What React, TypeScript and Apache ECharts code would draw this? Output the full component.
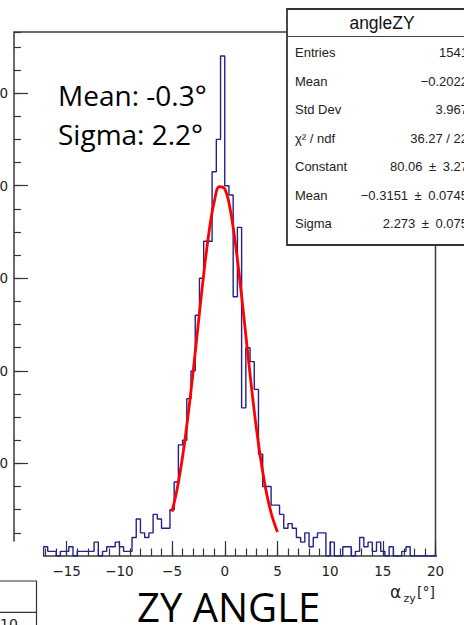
import React, { useEffect, useRef } from 'react';
import * as echarts from 'echarts';

// ---- data ----
const binStart = -17.2; // first visible bin low edge (bins are 0.4 wide)
const binWidth = 0.4;
const histCounts = [
  2, 1, 1, 0, 1, 1, 2, 0, 1, 1, 1, 1, 3, 0, 1, 2, 2, 3, 2, 1, // -17.2 .. -9.6
  1, 4, 8, 5, 4, 5, 9, 8, 6, 6, 10, 16, 24, 25, 34, 40, 52, 60, 68, 68, // -9.2 .. -1.6
  83, 90, 108, 80, 78, 56, 71, 32, 45, 42, 36, 22, 15, 15, 11, 11, 9, 6, 7, 6, // -1.2 .. 6.4
  4, 3, 5, 2, 4, 5, 5, 0, 3, 0, 0, 2, 2, 0, 1, 4, 2, 3, 1, 3, // 6.8 .. 14.4
  1, 0, 2, 0, 0, 1, 2, 0, 0, 0, 0, 0, 0, 0, // 14.8 .. 20
];
const fitX = [-5, -4.5, -4, -3.5, -3, -2.5, -2, -1.5, -1, -0.5, 0, 0.5, 1, 1.5, 2, 2.5, 3, 3.5, 4, 4.5, 5];
const fitY = [9.6, 14.7, 21.5, 30.0, 39.8, 50.4, 60.8, 69.9, 76.5, 79.8, 79.3, 75.1, 67.7, 58.2, 47.7, 37.2, 27.6, 19.6, 13.2, 8.5, 5.2];

const statsTitle = 'angleZY';
const statsLabels = ['Entries', 'Mean', 'Std Dev', 'χ² / ndf', 'Constant', 'Mean', 'Sigma'];
const statsValues = ['1541', '\u22120.2022', '3.967', '36.27 / 22', '80.06\u2002\u00b1\u20023.27', '\u22120.3151\u2002\u00b1\u20020.0745', '2.273\u2002\u00b1\u20020.075'];
const annotations = ['Mean: -0.3°', 'Sigma: 2.2°'];
const caption = 'ZY ANGLE';
const sideBoxText = '10';

const X_MIN = -20;
const X_MAX = 20;
const Y_MAX = 113.2;

function buildOutline(): number[][] {
  const pts: number[][] = [[binStart, 0]];
  histCounts.forEach((c, i) => {
    const x0 = +(binStart + i * binWidth).toFixed(4);
    const x1 = +(binStart + (i + 1) * binWidth).toFixed(4);
    pts.push([x0, c], [x1, c]);
  });
  const end = +(binStart + histCounts.length * binWidth).toFixed(4);
  pts.push([end, 0]);
  return pts;
}

const minus = (v: number) => (v < 0 ? '\u2212' + Math.abs(v) : String(v));

export default function App() {
  const ref = useRef<HTMLDivElement>(null);
  useEffect(() => {
    if (!ref.current) return;
    const chart = echarts.init(ref.current, undefined, { renderer: 'svg' });
    const axisColor = '#333';
    const tickFont = 'DejaVu Sans';
    const statFont = 'Liberation Sans';
    const graphic: any[] = [];

    // white-out of the bottom-left corner (collage edge)
    graphic.push({ type: 'rect', z: 100, shape: { x: -2, y: 541.5, width: 45, height: 90 }, style: { fill: '#fff' } });
    // partial box at bottom-left
    graphic.push({ type: 'rect', z: 101, shape: { x: -10, y: 581, width: 46.5, height: 60 }, style: { fill: 'none', stroke: '#333', lineWidth: 1.2 } });
    graphic.push({ type: 'line', z: 101, shape: { x1: -2, y1: 612.3, x2: 36.5, y2: 612.3 }, style: { stroke: '#333', lineWidth: 1.2 } });
    graphic.push({ type: 'text', z: 101, x: 0, y: 617, style: { text: sideBoxText, fontSize: 14, fontFamily: tickFont, fill: '#222', align: 'left', verticalAlign: 'top' } });

    // stats box
    graphic.push({ type: 'rect', z: 100, shape: { x: 287, y: 9, width: 190, height: 236 }, style: { fill: '#fff', stroke: '#333', lineWidth: 1.8 } });
    graphic.push({ type: 'line', z: 101, shape: { x1: 287, y1: 36.5, x2: 477, y2: 36.5 }, style: { stroke: '#444', lineWidth: 1 } });
    graphic.push({ type: 'text', z: 101, x: 382, y: 23, style: { text: statsTitle, fontSize: 17.5, fontFamily: statFont, fill: '#111', align: 'center', verticalAlign: 'middle' } });
    statsLabels.forEach((lab, i) => {
      const y = 52.5 + i * 28.5;
      graphic.push({ type: 'text', z: 101, x: 295, y, style: { text: lab, fontSize: 13, fontFamily: statFont, fill: '#222', align: 'left', verticalAlign: 'middle' } });
      graphic.push({ type: 'text', z: 101, x: 468, y, style: { text: statsValues[i], fontSize: 13, fontFamily: statFont, fill: '#222', align: 'right', verticalAlign: 'middle' } });
    });

    // annotations
    annotations.forEach((t, i) => {
      graphic.push({ type: 'text', z: 101, x: 58, y: 94.5 + i * 39, style: { text: t, fontSize: 28, fontFamily: 'Open Sans', fill: '#000', align: 'left', verticalAlign: 'middle' } });
    });
    graphic.push({ type: 'text', z: 101, x: 137, y: 606.5, style: { text: caption, fontSize: 40, fontFamily: 'Open Sans', fill: '#000', align: 'left', verticalAlign: 'middle' } });

    // x axis title: alpha_zy [deg]
    graphic.push({ type: 'text', z: 101, x: 390, y: 592, style: { text: 'α', fontSize: 17, fontFamily: tickFont, fill: '#222', align: 'left', verticalAlign: 'middle' } });
    graphic.push({ type: 'text', z: 101, x: 403.5, y: 598, style: { text: 'zy', fontSize: 11, fontFamily: tickFont, fill: '#222', align: 'left', verticalAlign: 'middle' } });
    graphic.push({ type: 'text', z: 101, x: 417, y: 592, style: { text: '[°]', fontSize: 14, fontFamily: tickFont, fill: '#222', align: 'left', verticalAlign: 'middle' } });

    const tickStyle = { color: axisColor, width: 1.2 };
    const noLine = { show: false, onZero: false };
    chart.setOption({
      animation: false,
      backgroundColor: '#fff',
      grid: {
        left: 14, top: 32, right: 28.5, bottom: 69, show: true, borderColor: '#3a3a3a', borderWidth: 1.5,
        backgroundColor: 'transparent', containLabel: false, outerBoundsMode: 'none',
      },
      xAxis: [
        {
          type: 'value', min: X_MIN, max: X_MAX, interval: 5, position: 'bottom',
          axisLine: noLine, splitLine: { show: false },
          axisTick: { inside: true, length: 15, lineStyle: tickStyle },
          axisLabel: { margin: 8, fontFamily: tickFont, fontSize: 13.5, color: '#222', formatter: minus, hideOverlap: false },
        },
        {
          type: 'value', min: X_MIN, max: X_MAX, interval: 1, position: 'bottom', offset: 0,
          axisLine: noLine, splitLine: { show: false },
          axisTick: { inside: true, length: 7.5, lineStyle: tickStyle },
          axisLabel: { show: false },
        },
      ],
      yAxis: [
        {
          type: 'value', min: 0, max: Y_MAX, interval: 20, position: 'left',
          axisLine: noLine, splitLine: { show: false },
          axisTick: { inside: true, length: 14, lineStyle: tickStyle },
          axisLabel: { margin: 6, fontFamily: tickFont, fontSize: 13.5, color: '#222', showMaxLabel: false, hideOverlap: false },
        },
        {
          type: 'value', min: 0, max: Y_MAX, interval: 5, position: 'left', offset: 0,
          axisLine: noLine, splitLine: { show: false },
          axisTick: { inside: true, length: 7, lineStyle: tickStyle },
          axisLabel: { show: false },
        },
      ],
      series: [
        {
          type: 'line', xAxisIndex: 0, yAxisIndex: 0, data: buildOutline(),
          showSymbol: false, symbol: 'none', z: 3,
          lineStyle: { color: '#22228a', width: 1.4 },
        },
        {
          type: 'line', xAxisIndex: 0, yAxisIndex: 0,
          data: fitX.map((x, i) => [x, fitY[i]]),
          showSymbol: false, symbol: 'none', smooth: 0.4, z: 4,
          lineStyle: { color: '#ff0000', width: 2.8 },
        },
      ],
      graphic,
    });
    return () => chart.dispose();
  }, []);
  return <div ref={ref} style={{ position: 'fixed', left: 0, top: 0, width: 464, height: 625 }} />;
}
